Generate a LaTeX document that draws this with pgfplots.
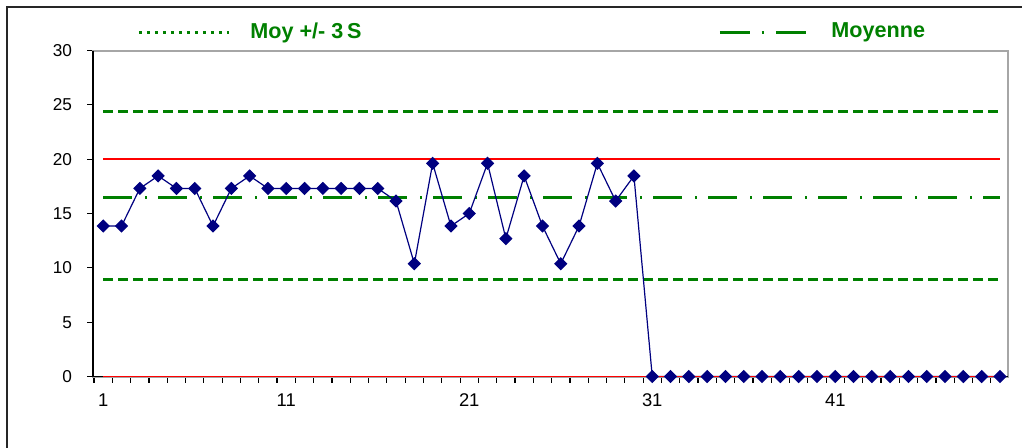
\documentclass[border=0pt]{standalone}
\usepackage{pgfplots}
\pgfplotsset{compat=1.18}
\usepackage{fontspec}
\setmainfont{Liberation Sans}
\definecolor{grn}{RGB}{0,128,0}
\definecolor{nav}{RGB}{0,0,128}
\begin{document}
\begin{tikzpicture}
\path[use as bounding box] (-46.5pt,-35.25pt) rectangle (464.5pt,188.25pt);
% outer chart frame (cropped at right and bottom)
\draw[line width=1pt,black!85] (-43pt,-80pt) -- (-43pt,184.75pt) -- (500pt,184.75pt);
\begin{axis}[
  at={(0,0)}, anchor=south west,
  scale only axis, width=457.5pt, height=163pt,
  xmin=0.44, xmax=50.44, ymin=0, ymax=30,
  clip=false,
  axis line style={draw=black!35, line width=1pt},
  tick align=outside,
  major tick length=3pt,
  tick style={black, line width=0.6pt},
  ytick={0,5,...,30}, ytick pos=left,
  xtick={0.5,1.5,...,49.5}, xticklabels={}, xtick pos=bottom,
  extra x ticks={1,11,21,31,41},
  extra x tick labels={1,11,21,31,41},
  extra x tick style={tick style={draw=none}},
  /pgf/number format/assume math mode=true,
  yticklabel style={xshift=-4pt, font=\fontsize{8.6}{10}\selectfont},
  xticklabel style={yshift=-2.2pt, font=\fontsize{9.2}{10}\selectfont},
  legend image code/.code={\draw[#1] (0pt,0pt) -- (45pt,0pt);},
  legend columns=2,
  legend style={draw=none, fill=none, inner sep=0pt,
    at={(axis description cs:0,1)}, anchor=west, xshift=22pt, yshift=9.25pt,
    font=\fontsize{10.8}{12}\selectfont\bfseries, text=grn,
    /tikz/every odd column/.append style={column sep=8pt},
    /tikz/every even column/.append style={column sep=176.5pt}},
]
% limits +/- 3S
\addplot[grn, line width=1.6pt, dash pattern=on 5pt off 2.5pt, forget plot]
  coordinates {(1,24.4) (50,24.4)};
\addplot[grn, line width=1.6pt, dash pattern=on 5pt off 2.5pt, forget plot]
  coordinates {(1,8.9) (50,8.9)};
% mean
\addplot[grn, line width=1.6pt, dash pattern=on 14.5pt off 6.5pt on 1pt off 5.5pt, forget plot]
  coordinates {(1,16.5) (50,16.5)};
% red limits
\addplot[red, line width=0.75pt, forget plot] coordinates {(1,20) (50,20)};
\addplot[red, line width=0.75pt, forget plot] coordinates {(1,0) (50,0)};
% data
\addplot[nav, line width=0.6pt, mark=square*, mark size=2.05pt,
  mark options={rotate=45, fill=nav, draw=nav}, forget plot]
  coordinates {
  (1,13.85) (2,13.85) (3,17.31) (4,18.46) (5,17.31) (6,17.31) (7,13.85) (8,17.31)
  (9,18.46) (10,17.31) (11,17.31) (12,17.31) (13,17.31) (14,17.31) (15,17.31)
  (16,17.31) (17,16.15) (18,10.38) (19,19.62) (20,13.85) (21,15.00) (22,19.62)
  (23,12.69) (24,18.46) (25,13.85) (26,10.38) (27,13.85) (28,19.62) (29,16.15)
  (30,18.46) (31,0) (32,0) (33,0) (34,0) (35,0) (36,0) (37,0) (38,0) (39,0)
  (40,0) (41,0) (42,0) (43,0) (44,0) (45,0) (46,0) (47,0) (48,0) (49,0) (50,0)};
% axis lines left and bottom in black
\draw[black, line width=0.8pt] (rel axis cs:0,1) -- (rel axis cs:0,0) -- (rel axis cs:1,0);
\draw[red, line width=0.75pt] (axis cs:1,0) -- (axis cs:50,0);
\addlegendimage{grn, line width=1.5pt, dash pattern=on 1.5pt off 2.5pt}
\addlegendentry{Moy +/- 3\,S}
\addlegendimage{grn, line width=1.5pt, dash pattern=on 15pt off 6pt on 1pt off 6pt}
\addlegendentry{Moyenne}
\end{axis}
\end{tikzpicture}
\end{document}
